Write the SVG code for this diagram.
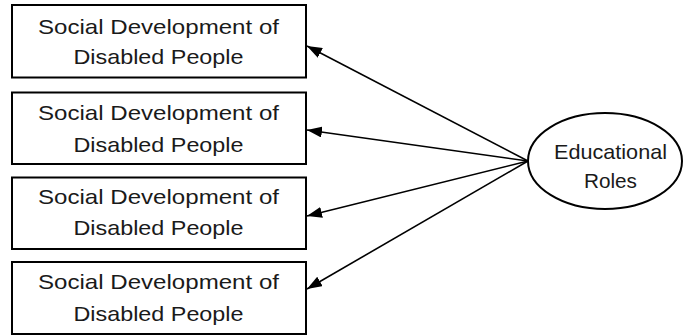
<svg xmlns="http://www.w3.org/2000/svg" width="683" height="335" viewBox="0 0 683 335">
<style>
.box{fill:#fff;stroke:#000;stroke-width:2}
.t{font-family:"Liberation Sans",Arial,sans-serif;font-size:21px;fill:#1a1a1a;text-anchor:middle}
.c{stroke:#000;stroke-width:1.6;fill:none}
</style>
<defs>
<marker id="ah" viewBox="0 0 15 11" refX="15" refY="5.5" markerWidth="15" markerHeight="11" markerUnits="userSpaceOnUse" orient="auto">
<path d="M0,0 L15,5.5 L0,11 z" fill="#000"/>
</marker>
</defs>
<rect width="683" height="335" fill="#fff"/>
<g id="connectors">
<line class="c" x1="528" y1="161" x2="307" y2="46" marker-end="url(#ah)"/>
<line class="c" x1="528" y1="161" x2="307" y2="130" marker-end="url(#ah)"/>
<line class="c" x1="528" y1="161" x2="307" y2="216" marker-end="url(#ah)"/>
<line class="c" x1="528" y1="161" x2="307" y2="289" marker-end="url(#ah)"/>
</g>
<g id="node1">
<rect class="box" x="12" y="5" width="294" height="72.5"/>
<text class="t" x="158.5" y="34" textLength="241" lengthAdjust="spacingAndGlyphs">Social Development of</text>
<text class="t" x="158.5" y="64" textLength="170" lengthAdjust="spacingAndGlyphs">Disabled People</text>
</g>
<g id="node2">
<rect class="box" x="12" y="92.5" width="294" height="71.5"/>
<text class="t" x="158.5" y="119.5" textLength="241" lengthAdjust="spacingAndGlyphs">Social Development of</text>
<text class="t" x="158.5" y="151.5" textLength="170" lengthAdjust="spacingAndGlyphs">Disabled People</text>
</g>
<g id="node3">
<rect class="box" x="12" y="177.5" width="294" height="71.5"/>
<text class="t" x="158.5" y="203.5" textLength="241" lengthAdjust="spacingAndGlyphs">Social Development of</text>
<text class="t" x="158.5" y="235" textLength="170" lengthAdjust="spacingAndGlyphs">Disabled People</text>
</g>
<g id="node4">
<rect class="box" x="12" y="262" width="294" height="72"/>
<text class="t" x="158.5" y="288.5" textLength="241" lengthAdjust="spacingAndGlyphs">Social Development of</text>
<text class="t" x="158.5" y="321" textLength="170" lengthAdjust="spacingAndGlyphs">Disabled People</text>
</g>
<g id="node5">
<ellipse class="box" cx="605" cy="161" rx="77" ry="48"/>
<text class="t" x="610.5" y="159" textLength="113" lengthAdjust="spacingAndGlyphs">Educational</text>
<text class="t" x="610.5" y="188" textLength="53" lengthAdjust="spacingAndGlyphs">Roles</text>
</g>
</svg>
